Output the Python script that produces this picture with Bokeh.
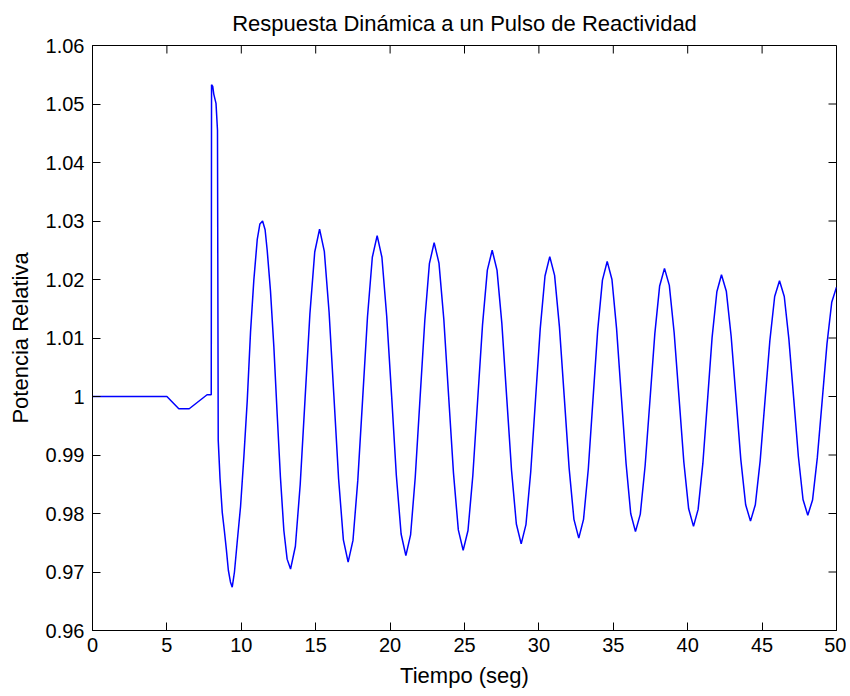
from bokeh.plotting import figure
from bokeh.models import FixedTicker, Range1d
from bokeh.embed import file_html
from bokeh.resources import INLINE

# ---- data ----
time_s = [0.0, 5.0, 5.8, 6.5, 7.7, 7.98, 8.0, 8.08, 8.15, 8.3,
          8.4, 8.45, 8.57, 8.72, 8.86, 8.99, 9.13, 9.27, 9.39, 9.54,
          9.72, 9.95, 10.17, 10.4, 10.62, 10.84, 11.07, 11.25, 11.43, 11.6,
          11.74, 11.96, 12.19, 12.41, 12.63, 12.86, 13.08, 13.31,
          13.635, 13.96, 14.285, 14.61, 14.935, 15.26,
          15.58, 15.9, 16.22, 16.54, 16.86, 17.18,
          17.505, 17.83, 18.155, 18.48, 18.805, 19.13,
          19.45, 19.77, 20.1, 20.42, 20.74, 21.06,
          21.38, 21.69, 22.01, 22.33, 22.64, 22.96,
          23.285, 23.61, 23.935, 24.26, 24.585, 24.91,
          25.235, 25.56, 25.885, 26.21, 26.535, 26.86,
          27.185, 27.51, 27.835, 28.16, 28.485, 28.81,
          29.13, 29.45, 29.77, 30.09, 30.41, 30.73,
          31.055, 31.38, 31.705, 32.03, 32.355, 32.68,
          33.0, 33.32, 33.635, 33.95, 34.27, 34.59,
          34.91, 35.22, 35.54, 35.86, 36.17, 36.49,
          36.815, 37.14, 37.465, 37.79, 38.115, 38.44,
          38.765, 39.09, 39.415, 39.74, 40.065, 40.39,
          40.7, 41.02, 41.33, 41.64, 41.96, 42.27,
          42.595, 42.92, 43.245, 43.57, 43.895, 44.22,
          44.545, 44.87, 45.195, 45.52, 45.845, 46.17,
          46.49, 46.8, 47.12, 47.44, 47.75, 48.07,
          48.39, 48.71, 49.035, 49.36, 49.68, 50.0]

potencia = [1.0, 1.0, 0.9979, 0.9979, 1.0003, 1.0003, 1.0533, 1.0530, 1.0517, 1.0501,
            1.0455, 0.9925, 0.9860, 0.9802, 0.9771, 0.9740, 0.9703, 0.9683, 0.9674, 0.9700,
            0.9750, 0.9812, 0.9896, 0.9993, 1.0110, 1.0198, 1.0268, 1.0295, 1.0300, 1.0285,
            1.0250, 1.0181, 1.0084, 0.9970, 0.9862, 0.9771, 0.9722, 0.9705,
            0.9744, 0.9850, 0.9996, 1.0141, 1.0247, 1.0286,
            1.0248, 1.0144, 1.0002, 0.9859, 0.9755, 0.9717,
            0.9754, 0.9857, 0.9996, 1.0136, 1.0238, 1.0275,
            1.0238, 1.0138, 1.0002, 0.9865, 0.9765, 0.9728,
            0.9764, 0.9862, 0.9996, 1.0129, 1.0227, 1.0263,
            1.0228, 1.0132, 1.0000, 0.9869, 0.9772, 0.9737,
            0.9771, 0.9865, 0.9994, 1.0122, 1.0216, 1.0250,
            1.0216, 1.0125, 0.9999, 0.9874, 0.9782, 0.9748,
            0.9781, 0.9871, 0.9994, 1.0116, 1.0206, 1.0239,
            1.0207, 1.0119, 0.9999, 0.9878, 0.9790, 0.9758,
            0.9790, 0.9876, 0.9995, 1.0113, 1.0199, 1.0231,
            1.0200, 1.0116, 1.0000, 0.9885, 0.9800, 0.9769,
            0.9799, 0.9882, 0.9994, 1.0107, 1.0189, 1.0219,
            1.0190, 1.0109, 0.9999, 0.9888, 0.9808, 0.9778,
            0.9807, 0.9886, 0.9993, 1.0101, 1.0179, 1.0208,
            1.0180, 1.0103, 0.9998, 0.9892, 0.9815, 0.9787,
            0.9815, 0.9890, 0.9993, 1.0095, 1.0171, 1.0198,
            1.0171, 1.0098, 0.9998, 0.9897, 0.9824, 0.9797,
            0.9823, 0.9895, 0.9992, 1.0090, 1.0161, 1.0187]

x_ticks = [0, 5, 10, 15, 20, 25, 30, 35, 40, 45, 50]
y_ticks = [0.96, 0.97, 0.98, 0.99, 1.0, 1.01, 1.02, 1.03, 1.04, 1.05, 1.06]
y_tick_labels = ["0.96", "0.97", "0.98", "0.99", "1", "1.01", "1.02",
                 "1.03", "1.04", "1.05", "1.06"]

x_min, x_max = 0, 50
y_min, y_max = 0.96, 1.06

title_text = "Respuesta Dinámica a un Pulso de Reactividad"
x_label = "Tiempo (seg)"
y_label = "Potencia Relativa"

FONT = "Liberation Sans"

p = figure(width=846, height=694, output_backend="svg", toolbar_location=None,
           x_range=Range1d(x_min, x_max), y_range=Range1d(y_min, y_max),
           min_border_left=92, min_border_right=10, min_border_top=45,
           min_border_bottom=64, title=title_text)

p.line(time_s, potencia, line_color="#0000FF", line_width=1.5)

# mirrored inward ticks on the top and right edges (MATLAB box style)
p.ray(x=x_ticks, y=[y_max] * len(x_ticks), length=8, length_units="screen",
      angle=-90, angle_units="deg", line_color="black", line_width=1)
p.ray(x=[x_max] * len(y_ticks), y=y_ticks, length=8, length_units="screen",
      angle=180, angle_units="deg", line_color="black", line_width=1)

p.title.align = "center"
p.title.vertical_align = "top"
p.title.text_font = FONT
p.title.text_font_size = "22px"
p.title.text_font_style = "normal"
p.title.text_color = "black"
p.title.standoff = 16

p.grid.visible = False
p.outline_line_color = "black"
p.outline_line_width = 1
p.background_fill_color = "white"
p.border_fill_color = "white"

label_map = {t: s for t, s in zip(y_ticks, y_tick_labels)}

def style_axis(ax):
    ax.major_tick_in = 8
    ax.major_tick_out = 0
    ax.minor_tick_in = 0
    ax.minor_tick_out = 0
    ax.axis_line_color = "black"
    ax.major_tick_line_color = "black"
    ax.major_label_text_font = FONT
    ax.major_label_text_font_size = "20px"
    ax.major_label_text_color = "black"
    ax.axis_label_text_font = FONT
    ax.axis_label_text_font_size = "22px"
    ax.axis_label_text_font_style = "normal"
    ax.axis_label_text_color = "black"

xa = p.xaxis[0]
xa.ticker = FixedTicker(ticks=x_ticks)
style_axis(xa)
xa.axis_label = x_label
xa.major_label_standoff = 7
xa.axis_label_standoff = 8

ya = p.yaxis[0]
ya.ticker = FixedTicker(ticks=y_ticks)
ya.major_label_overrides = label_map
style_axis(ya)
ya.axis_label = y_label
ya.major_label_standoff = 8
ya.axis_label_standoff = 10

open("out.html", "w").write(file_html(p, INLINE))
